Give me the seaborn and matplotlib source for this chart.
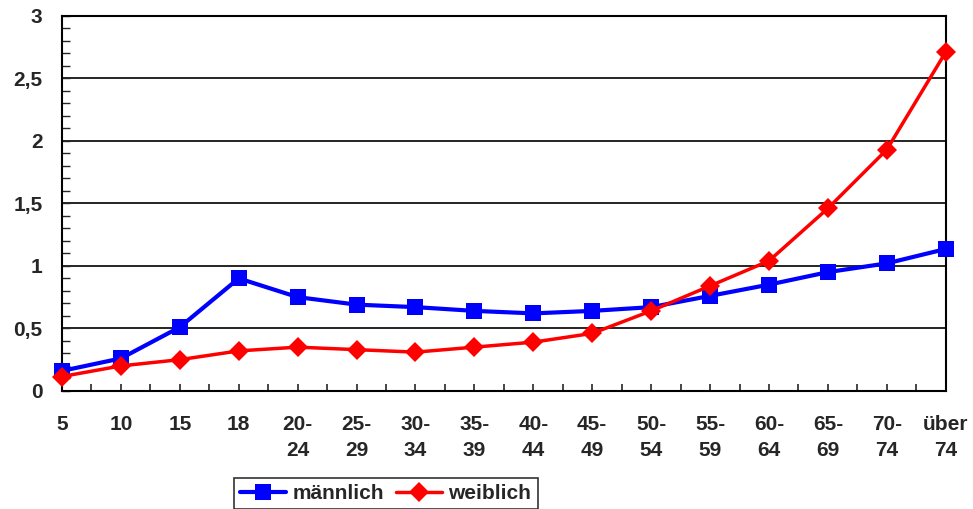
import pandas as pd
import matplotlib.pyplot as plt
import seaborn as sns
from matplotlib.ticker import MultipleLocator, FuncFormatter

# Age groups and rates
age_groups = ["5", "10", "15", "18", "20-\n24", "25-\n29", "30-\n34", "35-\n39",
              "40-\n44", "45-\n49", "50-\n54", "55-\n59", "60-\n64", "65-\n69",
              "70-\n74", "über\n74"]
maennlich = [0.16, 0.26, 0.51, 0.90, 0.75, 0.69, 0.67, 0.64,
             0.62, 0.64, 0.67, 0.76, 0.85, 0.95, 1.02, 1.135]
weiblich = [0.115, 0.20, 0.25, 0.32, 0.35, 0.33, 0.31, 0.35,
            0.39, 0.46, 0.64, 0.84, 1.04, 1.46, 1.93, 2.71]

df = pd.DataFrame({"Alter": age_groups, "männlich": maennlich, "weiblich": weiblich})

sns.set_style("white")
plt.rcParams['font.family'] = ['Liberation Sans', 'DejaVu Sans']
plt.rcParams['font.weight'] = 'bold'

fig = plt.figure(figsize=(9.73, 5.09), dpi=100)
ax = fig.add_axes([0.0637, 0.232, 0.9083, 0.737])

sns.lineplot(data=df, x="Alter", y="männlich", ax=ax, color="#0000ff",
             marker="s", markersize=12, linewidth=3, markeredgewidth=0,
             label="männlich", sort=False, clip_on=False, zorder=3)
sns.lineplot(data=df, x="Alter", y="weiblich", ax=ax, color="#ff0000",
             marker="D", markersize=10, linewidth=2.5, markeredgewidth=0,
             label="weiblich", sort=False, clip_on=False, zorder=4)

ax.set_xlim(0, len(age_groups) - 1)
ax.set_ylim(0, 3)
ax.set_xlabel("")
ax.set_ylabel("")

# y axis with German decimal comma
ax.yaxis.set_major_locator(MultipleLocator(0.5))
ax.yaxis.set_minor_locator(MultipleLocator(0.1))
ax.yaxis.set_major_formatter(FuncFormatter(lambda v, p: f"{v:g}".replace(".", ",")))
ax.grid(axis="y", color="black", linewidth=1.2)
ax.set_axisbelow(True)

# x ticks at categories plus minor ticks in between
ax.set_xticks(range(len(age_groups)))
ax.set_xticklabels(age_groups, linespacing=1.5)
ax.xaxis.set_minor_locator(MultipleLocator(0.5))

ax.tick_params(axis="x", which="both", direction="in", length=5, width=1.2,
               pad=17, labelsize=15, bottom=True)
ax.tick_params(axis="y", which="both", direction="in", length=6, width=1,
               pad=14, labelsize=15, left=True)

for side in ["left", "right", "top", "bottom"]:
    ax.spines[side].set_color("black")
    ax.spines[side].set_linewidth(1.5)

leg = ax.legend(loc="upper left", bbox_to_anchor=(0.2405, 0.061),
                bbox_transform=fig.transFigure, ncol=2, frameon=True,
                fancybox=False, edgecolor="black", fontsize=15,
                handlelength=2.2, columnspacing=0.6, handletextpad=0.3,
                borderpad=0.3, borderaxespad=0)
leg.get_frame().set_linewidth(1.2)

fig.savefig("out.png", dpi=100)
